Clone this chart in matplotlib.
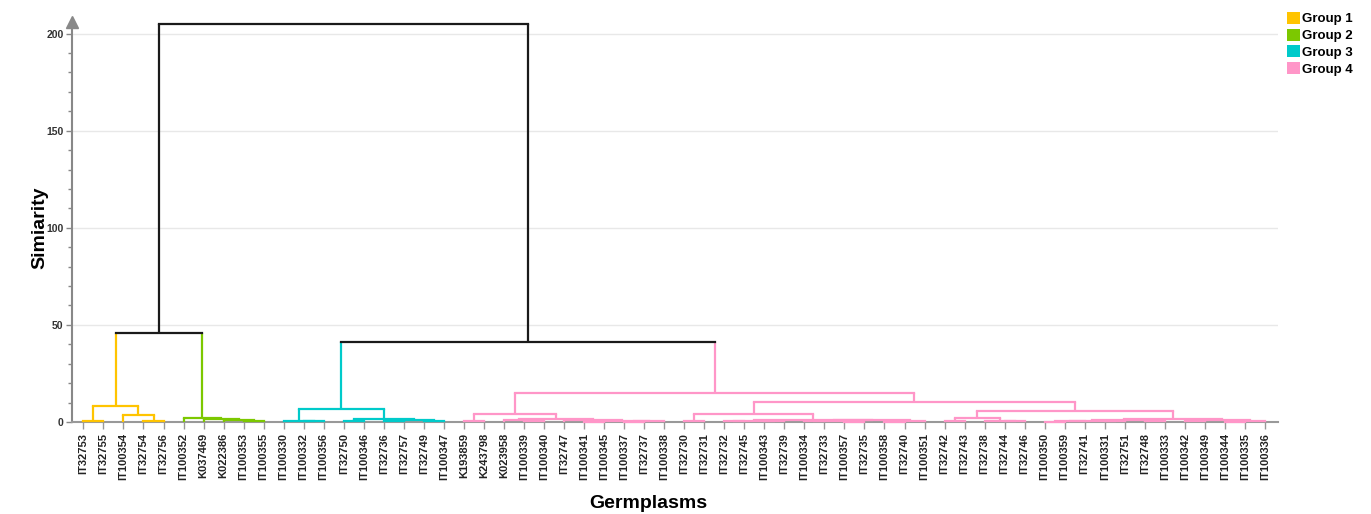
import matplotlib.pyplot as plt
from matplotlib.patches import Patch
from matplotlib.ticker import MultipleLocator

plt.rcParams['font.family'] = ['Liberation Sans', 'DejaVu Sans']

LEAVES = ['IT32753', 'IT32755', 'IT100354', 'IT32754', 'IT32756',
          'IT100352', 'K037469', 'K022386', 'IT100353', 'IT100355',
          'IT100330', 'IT100332', 'IT100356', 'IT32750', 'IT100346',
          'IT32736', 'IT32757', 'IT32749', 'IT100347',
          'K193859', 'K243798', 'K023958', 'IT100339', 'IT100340',
          'IT32747', 'IT100341', 'IT100345', 'IT100337', 'IT32737',
          'IT100338', 'IT32730', 'IT32731', 'IT32732', 'IT32745',
          'IT100343', 'IT32739', 'IT100334', 'IT32733', 'IT100357',
          'IT32735', 'IT100358', 'IT32740', 'IT100351', 'IT32742',
          'IT32743', 'IT32738', 'IT32744', 'IT32746', 'IT100350',
          'IT100359', 'IT32741', 'IT100331', 'IT32751', 'IT32748',
          'IT100333', 'IT100342', 'IT100349', 'IT100344', 'IT100335',
          'IT100336']
GROUP_SIZES = [5, 5, 9, 41]
GROUP_NAMES = ['Group 1', 'Group 2', 'Group 3', 'Group 4']
GROUP_COLORS = ['#FFC400', '#7CC800', '#00CACA', '#FF96C8']

# (node, left, right, height) - ints are leaf indices into LEAVES
MERGES = [
    # group 1
    ('g1a', 3, 4, 0.7), ('g1b', 0, 1, 0.7), ('g1c', 2, 'g1a', 3.4),
    ('g1', 'g1b', 'g1c', 8.3),
    # group 2
    ('g2a', 8, 9, 0.5), ('g2b', 7, 'g2a', 1.0), ('g2c', 6, 'g2b', 1.6),
    ('g2', 5, 'g2c', 2.2),
    ('g12', 'g1', 'g2', 46.0),
    # group 3
    ('g3a', 11, 12, 0.3), ('g3b', 10, 'g3a', 0.7), ('g3c', 13, 14, 0.5),
    ('g3d', 15, 16, 0.6), ('g3e', 17, 18, 0.5), ('g3f', 'g3d', 'g3e', 1.2),
    ('g3g', 'g3c', 'g3f', 1.7), ('g3', 'g3b', 'g3g', 6.5),
    # group 4, left part
    ('a1', 19, 20, 0.5), ('a2', 22, 23, 0.4), ('a3', 21, 'a2', 0.9),
    ('x1', 25, 26, 0.2), ('x2', 27, 28, 0.2), ('x3', 'x2', 29, 0.4),
    ('x4', 'x1', 'x3', 0.6), ('a4', 24, 'x4', 0.8), ('a5', 'a3', 'a4', 1.5),
    ('g4a', 'a1', 'a5', 4.0),
    # group 4, middle part
    ('b1', 30, 31, 0.5), ('l1', 32, 33, 0.3), ('l2', 34, 35, 0.4),
    ('l3', 'l1', 'l2', 0.7), ('r1', 36, 37, 0.3), ('r2', 38, 39, 0.2),
    ('r3', 'r1', 'r2', 0.5), ('r4', 40, 41, 0.2), ('r5', 'r4', 42, 0.4),
    ('r6', 'r3', 'r5', 0.8), ('b2', 'l3', 'r6', 1.2),
    ('g4b1', 'b1', 'b2', 4.0),
    # group 4, right part
    ('c1', 43, 44, 0.4), ('c2', 46, 47, 0.3), ('c3', 45, 'c2', 0.7),
    ('c4', 'c1', 'c3', 2.1),
    ('d1', 48, 49, 0.2), ('d2', 'd1', 50, 0.4), ('d3', 51, 52, 0.3),
    ('d4', 'd2', 'd3', 0.7), ('d5', 53, 54, 0.3), ('d6', 'd4', 'd5', 1.0),
    ('e1', 55, 56, 0.3), ('e2', 57, 58, 0.2), ('e3', 'e2', 59, 0.5),
    ('e4', 'e1', 'e3', 0.9), ('c5', 'd6', 'e4', 1.5),
    ('g4b2', 'c4', 'c5', 5.7),
    ('g4b', 'g4b1', 'g4b2', 10.5), ('g4', 'g4a', 'g4b', 15.0),
    ('g34', 'g3', 'g4', 41.3),
    ('top', 'g12', 'g34', 205.0),
]

fig = plt.figure(figsize=(13.71, 5.14), dpi=100)
ax = fig.add_axes([72 / 1371, 1 - 422 / 514, 1206 / 1371, 400 / 514])

pos = {i: float(i) for i in range(len(LEAVES))}
hgt = {i: 0.0 for i in range(len(LEAVES))}
grp = {}
k = 0
for g, n in enumerate(GROUP_SIZES):
    for _ in range(n):
        grp[k] = g
        k += 1


def node_color(node):
    return GROUP_COLORS[grp[node]] if grp[node] is not None else '#1a1a1a'


for name, left, right, h in MERGES:
    pos[name] = (pos[left] + pos[right]) / 2
    hgt[name] = h
    grp[name] = grp[left] if (grp[left] is not None and grp[left] == grp[right]) else None
    # verticals take the child's colour, the bar takes the parent's
    for child in (left, right):
        ax.plot([pos[child], pos[child]], [hgt[child], h], color=node_color(child),
                lw=1.6, clip_on=False, zorder=3, solid_capstyle='butt')
    ax.plot([pos[left], pos[right]], [h, h], color=node_color(name),
            lw=1.6, clip_on=False, zorder=3, solid_capstyle='projecting')

ax.set_xlim(-0.57, 59.65)
ax.set_ylim(0, 206)

ax.spines['top'].set_visible(False)
ax.spines['right'].set_visible(False)
ax.spines['left'].set_color('#888888')
ax.spines['bottom'].set_color('#999999')
ax.spines['left'].set_linewidth(1.5)
ax.spines['bottom'].set_linewidth(1.5)
ax.plot(0, 1.0, marker='^', markersize=8, color='#888888', transform=ax.transAxes,
        clip_on=False, zorder=4)

ax.set_xticks(range(len(LEAVES)))
ax.set_xticklabels(LEAVES, rotation=90, fontsize=8, fontweight='bold', color='#222222')
ax.tick_params(axis='x', length=5, width=1, color='#999999', pad=3)

ax.set_yticks([0, 50, 100, 150, 200])
ax.yaxis.set_minor_locator(MultipleLocator(10))
ax.tick_params(axis='y', which='major', length=4, width=1, color='#888888', pad=2,
               labelsize=7.5, labelcolor='#333333')
ax.tick_params(axis='y', which='minor', length=3, width=1, color='#888888')
for lbl in ax.get_yticklabels():
    lbl.set_fontweight('bold')
ax.grid(axis='y', which='major', color='#e8e8e8', lw=1)
ax.set_axisbelow(True)

fig.text(40 / 1371, 1 - 228 / 514, 'Simiarity', rotation=90, ha='center', va='center',
         fontsize=14, fontweight='bold')
fig.text(648 / 1371, 1 - 503 / 514, 'Germplasms', ha='center', va='center',
         fontsize=14, fontweight='bold')

handles = [Patch(facecolor=c, edgecolor='none') for c in GROUP_COLORS]
fig.legend(handles, GROUP_NAMES, loc='upper left', bbox_to_anchor=(1287 / 1371, 1 - 12 / 514),
           frameon=False, handlelength=1.0, handleheight=1.0, handletextpad=0.15,
           labelspacing=0.25, borderaxespad=0, borderpad=0,
           prop={'weight': 'bold', 'size': 9.5})

plt.savefig('out.png', dpi=100)
